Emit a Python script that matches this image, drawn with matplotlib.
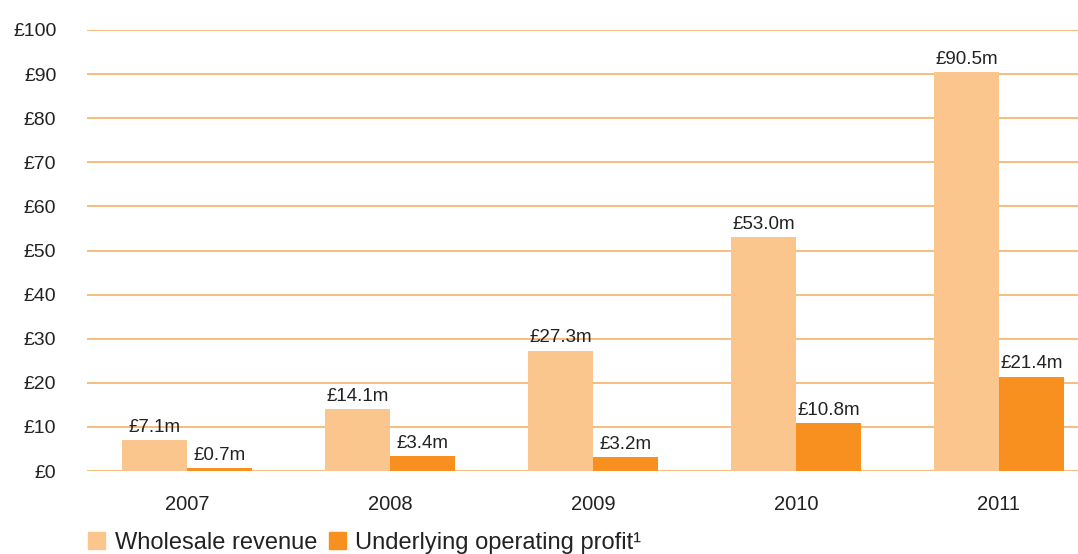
import numpy as np
import matplotlib.pyplot as plt
from matplotlib.patches import Patch

plt.rcParams['font.family'] = ['Liberation Sans', 'DejaVu Sans']

# data (in £m)
years = ["2007", "2008", "2009", "2010", "2011"]
wholesale_revenue = [7.1, 14.1, 27.3, 53.0, 90.5]
operating_profit = [0.7, 3.4, 3.2, 10.8, 21.4]
y_ticks = list(range(0, 101, 10))

light_orange = "#FBC68D"
dark_orange = "#F7901E"
grid_color = "#F6A95A"

fig = plt.figure(figsize=(10.78, 5.54), dpi=100)
ax = fig.add_axes([87 / 1078, 83 / 554, 991 / 1078, 441 / 554])

x = np.arange(len(years))
width = 0.32

# grid lines under the bars
for v in y_ticks:
    ax.axhline(v, color=grid_color, lw=1.1, zorder=0)

b1 = ax.bar(x - width / 2, wholesale_revenue, width, color=light_orange, zorder=2)
b2 = ax.bar(x + width / 2, operating_profit, width, color=dark_orange, zorder=2)

ax.bar_label(b1, labels=[f"£{v:.1f}m" for v in wholesale_revenue], padding=3, fontsize=13.5, color="#222222")
ax.bar_label(b2, labels=[f"£{v:.1f}m" for v in operating_profit], padding=3, fontsize=13.5, color="#222222")

ax.set_xlim(-100 / 203, -100 / 203 + 991 / 203)
ax.set_ylim(0, 100)
ax.set_xticks(x)
ax.set_xticklabels(years, fontsize=14.5, color="#222222")
ax.set_yticks(y_ticks)
ax.set_yticklabels([f"£{v}" for v in y_ticks], fontsize=14, color="#222222")
ax.tick_params(axis="x", length=0, pad=17)
ax.tick_params(axis="y", length=0, pad=22)
for s in ax.spines.values():
    s.set_visible(False)

handles = [Patch(color=light_orange, label="Wholesale revenue"),
           Patch(color=dark_orange, label="Underlying operating profit¹")]
fig.legend(handles=handles, loc="lower left", bbox_to_anchor=(67 / 1078, -21 / 554),
           ncol=2, frameon=False, fontsize=17, handlelength=0.72, handleheight=0.72,
           handletextpad=0.4, columnspacing=0.5, labelcolor="#222222")

fig.savefig("out.png", dpi=100)
